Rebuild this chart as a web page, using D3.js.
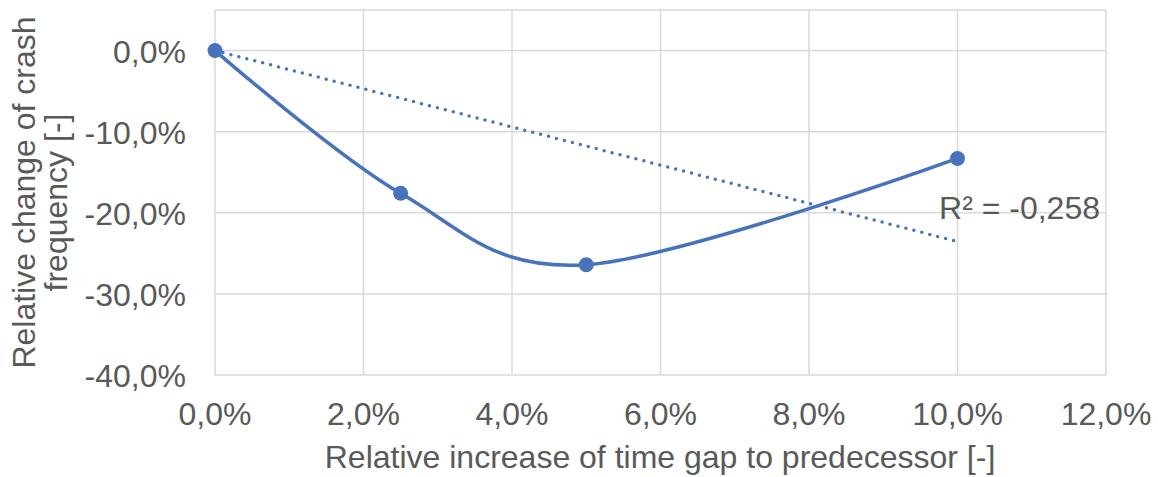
<!DOCTYPE html>
<html><head><meta charset="utf-8">
<script src="https://cdn.jsdelivr.net/npm/d3@7"></script>
<style>body{margin:0;background:#fff;} text{font-family:"Liberation Sans",Arial,sans-serif;fill:#595959;}</style>
</head><body>
<svg id="c" width="1158" height="477"></svg>
<script>
const xValues = [0, 2.5, 5, 10];
const yValues = [0, -17.6, -26.4, -13.3];
const xTicks = [0, 2, 4, 6, 8, 10, 12];
const yTicks = [0, -10, -20, -30, -40];
const r2Label = "R² = -0,258";
const xTitle = "Relative increase of time gap to predecessor [-]";
const yTitle = ["Relative change of crash", "frequency [-]"];

const svg = d3.select("#c");
const L = 215, R = 1106, T = 10, B = 375;
const x = d3.scaleLinear().domain([0, 12]).range([L, R]);
const y = d3.scaleLinear().domain([-40, 5]).range([B, T]);
const fmt = v => v.toFixed(1).replace(".", ",") + "%";
const blue = "#4673BB";
const grid = "#d9d9d9";
const fs = 32;

// grid
svg.append("g").selectAll("line").data(xTicks).join("line")
  .attr("x1", d => x(d)).attr("x2", d => x(d)).attr("y1", T).attr("y2", B)
  .attr("stroke", grid).attr("stroke-width", 1.5);
svg.append("g").selectAll("line").data(yTicks.concat([5])).join("line")
  .attr("x1", L).attr("x2", R).attr("y1", d => y(d)).attr("y2", d => y(d))
  .attr("stroke", grid).attr("stroke-width", 1.5);

// tick labels
svg.append("g").selectAll("text").data(xTicks).join("text")
  .attr("x", d => x(d)).attr("y", 425).attr("text-anchor", "middle")
  .attr("font-size", fs).text(fmt);
svg.append("g").selectAll("text").data(yTicks).join("text")
  .attr("x", 186).attr("y", d => y(d) + 12).attr("text-anchor", "end")
  .attr("font-size", fs).text(fmt);

// titles
svg.append("text").attr("x", 660).attr("y", 468).attr("text-anchor", "middle")
  .attr("font-size", fs).text(xTitle);
const yt = svg.append("text").attr("transform", `translate(0,${(T + B) / 2}) rotate(-90)`)
  .attr("text-anchor", "middle").attr("font-size", fs);
yt.append("tspan").attr("x", 0).attr("y", 35).text(yTitle[0]);
yt.append("tspan").attr("x", -10).attr("y", 67).text(yTitle[1]);

// trendline (linear, zero intercept)
const slope = d3.sum(xValues.map((v, i) => v * yValues[i])) / d3.sum(xValues.map(v => v * v));
svg.append("line").attr("x1", x(0)).attr("y1", y(0)).attr("x2", x(10)).attr("y2", y(slope * 10))
  .attr("stroke", blue).attr("stroke-width", 3.5).attr("stroke-dasharray", "0 8.2")
  .attr("stroke-linecap", "round");

// smoothed series line
const pts = xValues.map((v, i) => [v, yValues[i]]);
svg.append("path").datum(pts)
  .attr("d", d3.line().x(d => x(d[0])).y(d => y(d[1])).curve(d3.curveCatmullRom.alpha(0)))
  .attr("fill", "none").attr("stroke", blue).attr("stroke-width", 3.5);
svg.append("g").selectAll("circle").data(pts).join("circle")
  .attr("cx", d => x(d[0])).attr("cy", d => y(d[1])).attr("r", 7.5).attr("fill", blue);

svg.append("text").attr("x", 1100).attr("y", 219).attr("text-anchor", "end")
  .attr("font-size", fs).text(r2Label);
</script>
</body></html>
